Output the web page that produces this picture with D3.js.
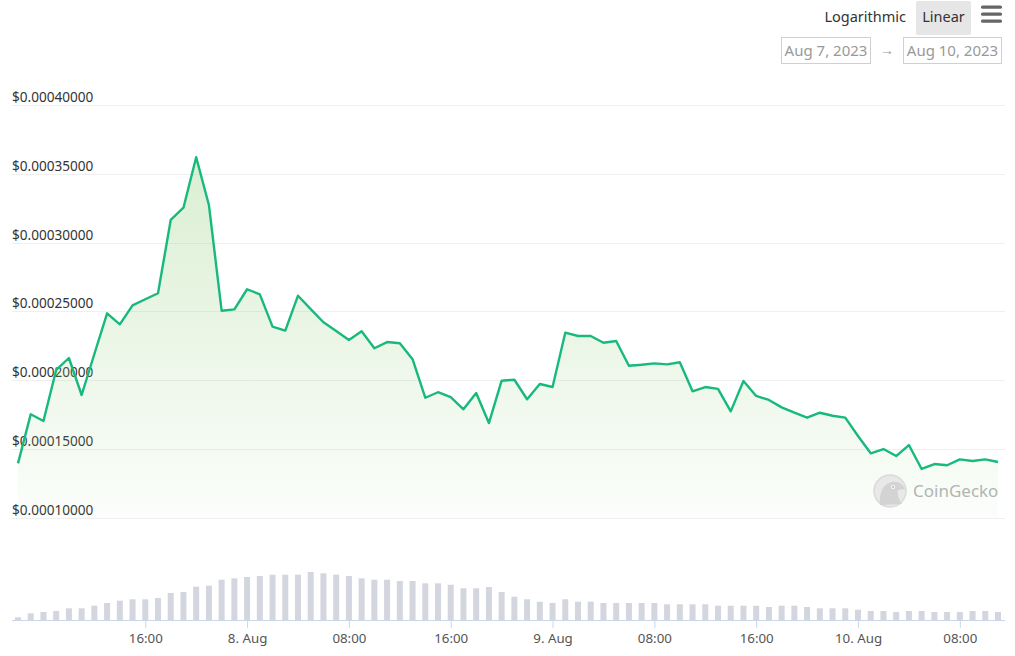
<!DOCTYPE html>
<html>
<head>
<meta charset="utf-8">
<script src="https://cdn.jsdelivr.net/npm/d3@7"></script>
<style>
  html, body { margin: 0; padding: 0; background: #fff; }
  body { width: 1015px; height: 656px; overflow: hidden; font-family: "Noto Sans", "Open Sans", sans-serif; }
</style>
</head>
<body>
<div id="chart"></div>
<script>
'use strict';

// hourly prices, Aug 7 06:00 -> Aug 10 11:00 (UTC)
const startTime = Date.UTC(2023, 7, 7, 6);
const prices = [
  0.0001394, 0.0001751, 0.0001702, 0.0002073, 0.0002160, 0.0001891, 0.0002189, 0.0002485,
  0.0002405, 0.0002543, 0.0002587, 0.0002631, 0.0003164, 0.0003253, 0.0003620, 0.0003273,
  0.0002504, 0.0002514, 0.0002660, 0.0002623, 0.0002388, 0.0002359, 0.0002613, 0.0002516,
  0.0002420, 0.0002356, 0.0002291, 0.0002354, 0.0002231, 0.0002276, 0.0002267, 0.0002151,
  0.0001871, 0.0001911, 0.0001876, 0.0001787, 0.0001905, 0.0001687, 0.0001995, 0.0002002,
  0.0001860, 0.0001971, 0.0001949, 0.0002344, 0.0002320, 0.0002320, 0.0002271, 0.0002284,
  0.0002104, 0.0002111, 0.0002121, 0.0002114, 0.0002129, 0.0001918, 0.0001949, 0.0001935,
  0.0001772, 0.0001993, 0.0001884, 0.0001855, 0.0001801, 0.0001762, 0.0001726, 0.0001762,
  0.0001740, 0.0001726, 0.0001593, 0.0001467, 0.0001498, 0.0001447, 0.0001527, 0.0001353,
  0.0001389, 0.0001380, 0.0001423, 0.0001411, 0.0001423, 0.0001404
];
// hourly volumes (thousand USD)
const volumes = [
  2.7, 6.7, 8, 9, 11.7, 11.7, 14.3, 17, 19.3, 20.7, 20.7, 22, 27, 28, 33.3, 34.3,
  40.3, 41.7, 43, 44, 45.3, 45.3, 45.3, 48, 46.7, 45.3, 44, 41.7, 40.3, 40.3, 39, 39,
  36.7, 36.7, 35.3, 31.7, 31.7, 33, 28, 23.3, 20.7, 18.3, 17, 20.7, 18.3, 18.3, 17, 17,
  17, 17, 17, 15.7, 15.7, 15.7, 15.7, 14.3, 14.3, 14.3, 14.3, 13, 14.3, 14.3, 13, 11.7,
  11.7, 11.7, 10.3, 9, 9, 8, 9, 9, 8, 8, 8, 9, 9, 8
];
const priceTicks = [0.0001, 0.00015, 0.0002, 0.00025, 0.0003, 0.00035, 0.0004];
const timeTicks = [
  Date.UTC(2023, 7, 7, 16), Date.UTC(2023, 7, 8, 0), Date.UTC(2023, 7, 8, 8),
  Date.UTC(2023, 7, 8, 16), Date.UTC(2023, 7, 9, 0), Date.UTC(2023, 7, 9, 8),
  Date.UTC(2023, 7, 9, 16), Date.UTC(2023, 7, 10, 0), Date.UTC(2023, 7, 10, 8)
];
const rangeLabels = ['Aug 7, 2023', 'Aug 10, 2023'];

const width = 1015;
const height = 656;
const green = '#17b97d';

const data = prices.map((p, i) => ({
  t: new Date(startTime + i * 3600e3),
  p: p,
  v: volumes[i]
}));

const svg = d3.select('#chart')
  .append('svg')
    .attr('width', width)
    .attr('height', height)
    .style('font-family', '"Noto Sans", "Open Sans", sans-serif');

const x = d3.scaleUtc()
  .domain(d3.extent(data, d => d.t))
  .range([18, 998]);

const y = d3.scaleLinear()
  .domain([0.0001, 0.0004])
  .range([517.5, 105]);

const yVol = d3.scaleLinear()
  .domain([0, 60])
  .range([620, 560]);

// gridlines + y labels
const grid = svg.append('g').attr('class', 'grid');
grid.selectAll('line')
  .data(priceTicks)
  .enter()
    .append('line')
      .attr('x1', 12)
      .attr('x2', 1005)
      .attr('y1', d => Math.round(y(d)) + 0.5)
      .attr('y2', d => Math.round(y(d)) + 0.5)
      .attr('stroke', '#efeff2')
      .attr('stroke-width', 1);
grid.selectAll('text')
  .data(priceTicks)
  .enter()
    .append('text')
      .attr('x', 12)
      .attr('y', d => y(d) - 3)
      .attr('font-size', 13.6)
      .attr('fill', '#333')
      .text(d => '$' + d.toFixed(8));

// area gradient
const defs = svg.append('defs');
const grad = defs.append('linearGradient')
  .attr('id', 'areaFill')
  .attr('gradientUnits', 'userSpaceOnUse')
  .attr('x1', 0).attr('x2', 0)
  .attr('y1', y(d3.max(prices))).attr('y2', y(0.0001));
grad.append('stop').attr('offset', 0).attr('stop-color', '#9fd48a').attr('stop-opacity', 0.38);
grad.append('stop').attr('offset', 1).attr('stop-color', '#9fd48a').attr('stop-opacity', 0.04);

svg.append('path')
  .datum(data)
  .attr('fill', 'url(#areaFill)')
  .attr('d', d3.area()
    .x(d => x(d.t))
    .y0(y(0.0001))
    .y1(d => y(d.p)));

// watermark
const wm = svg.append('g').attr('class', 'watermark').attr('opacity', 0.75);
wm.append('circle')
  .attr('cx', 890).attr('cy', 491).attr('r', 16)
  .attr('fill', '#e2e2e2').attr('stroke', '#cfcfcf').attr('stroke-width', 1.5);
wm.append('path')
  .attr('d', 'M880,505 C879,494 882,484 892,482 C899,481 903,485 905,489 L898,490 C897,494 899,500 902,504 Z')
  .attr('fill', '#c6c6c6');
wm.append('circle').attr('cx', 893).attr('cy', 487).attr('r', 2).attr('fill', '#fff');
wm.append('circle').attr('cx', 893).attr('cy', 487).attr('r', 1).attr('fill', '#999');
wm.append('text')
  .attr('x', 913).attr('y', 497)
  .attr('font-size', 17)
  .attr('fill', '#9c9c9c')
  .text('CoinGecko');

// price line
svg.append('path')
  .datum(data)
  .attr('fill', 'none')
  .attr('stroke', green)
  .attr('stroke-width', 2.4)
  .attr('stroke-linejoin', 'round')
  .attr('d', d3.line()
    .x(d => x(d.t))
    .y(d => y(d.p)));

// volume bars
svg.append('g')
  .attr('class', 'volume')
  .selectAll('rect')
    .data(data)
    .enter()
      .append('rect')
        .attr('x', d => x(d.t) - 3)
        .attr('width', 6)
        .attr('y', d => yVol(d.v))
        .attr('height', d => yVol(0) - yVol(d.v))
        .attr('fill', '#d3d6de');

// x axis
const fmt = d => d.getUTCHours() === 0 ? d3.utcFormat('%-d. %b')(d) : d3.utcFormat('%H:%M')(d);
const xAxis = svg.append('g')
  .attr('transform', 'translate(0,620)')
  .call(d3.axisBottom(x)
    .tickValues(timeTicks.map(t => new Date(t)))
    .tickFormat(fmt)
    .tickSize(8)
    .tickPadding(6));
xAxis.select('.domain')
  .attr('stroke', '#ccd6eb')
  .attr('d', 'M12,0.5H1005');
xAxis.selectAll('.tick line').attr('stroke', '#ccd6eb');
xAxis.selectAll('.tick text')
  .attr('fill', '#555')
  .attr('font-size', 13.3)
  .style('font-family', '"Noto Sans", "Open Sans", sans-serif');

// top controls
const ctl = svg.append('g').attr('class', 'controls');
ctl.append('text')
  .attr('x', 906).attr('y', 22)
  .attr('text-anchor', 'end')
  .attr('font-size', 14.5)
  .attr('fill', '#333')
  .text('Logarithmic');
ctl.append('rect')
  .attr('x', 916).attr('y', 1).attr('width', 55).attr('height', 34)
  .attr('rx', 2)
  .attr('fill', '#e6e6e6');
ctl.append('text')
  .attr('x', 943.5).attr('y', 22)
  .attr('text-anchor', 'middle')
  .attr('font-size', 14.5)
  .attr('fill', '#333')
  .text('Linear');
ctl.selectAll('.bar')
  .data([7, 14, 21])
  .enter()
    .append('rect')
      .attr('x', 981).attr('y', d => d - 1.5)
      .attr('width', 21).attr('height', 3.2)
      .attr('rx', 1.5)
      .attr('fill', '#666');

const boxes = [
  { x: 781.5, w: 89 },
  { x: 903.5, w: 98 }
];
ctl.selectAll('.range')
  .data(rangeLabels)
  .enter()
    .append('rect')
      .attr('x', (d, i) => boxes[i].x)
      .attr('y', 37.5)
      .attr('width', (d, i) => boxes[i].w)
      .attr('height', 26)
      .attr('fill', '#fff')
      .attr('stroke', '#d0d0d0');
ctl.selectAll('.rangeText')
  .data(rangeLabels)
  .enter()
    .append('text')
      .attr('x', (d, i) => boxes[i].x + boxes[i].w / 2)
      .attr('y', 56)
      .attr('text-anchor', 'middle')
      .attr('font-size', 15)
      .attr('fill', '#999')
      .text(d => d);
ctl.append('text')
  .attr('x', 887).attr('y', 55)
  .attr('text-anchor', 'middle')
  .attr('font-size', 14)
  .attr('fill', '#999')
  .text('→');
</script>
</body>
</html>
